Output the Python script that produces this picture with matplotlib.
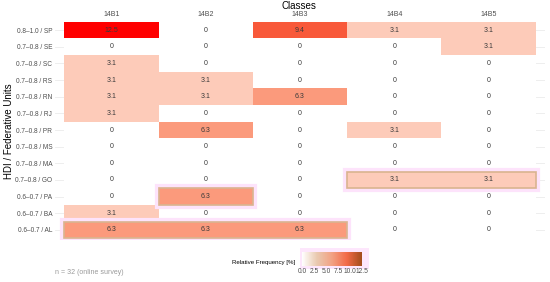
import numpy as np
import matplotlib
matplotlib.use("Agg")
import matplotlib.pyplot as plt
from matplotlib.colors import LinearSegmentedColormap, Normalize
from matplotlib.patches import Rectangle
import matplotlib.cm as cm

classes = ["14B1", "14B2", "14B3", "14B4", "14B5"]
units = ["0.8\u20131.0 / SP", "0.7\u20130.8 / SE", "0.7\u20130.8 / SC", "0.7\u20130.8 / RS",
         "0.7\u20130.8 / RN", "0.7\u20130.8 / RJ", "0.7\u20130.8 / PR", "0.7\u20130.8 / MS",
         "0.7\u20130.8 / MA", "0.7\u20130.8 / GO", "0.6\u20130.7 / PA", "0.6\u20130.7 / BA",
         "0.6\u20130.7 / AL"]
freq = np.array([
    [12.5, 0, 9.4, 3.1, 3.1],
    [0, 0, 0, 0, 3.1],
    [3.1, 0, 0, 0, 0],
    [3.1, 3.1, 0, 0, 0],
    [3.1, 3.1, 6.3, 0, 0],
    [3.1, 0, 0, 0, 0],
    [0, 6.3, 0, 3.1, 0],
    [0, 0, 0, 0, 0],
    [0, 0, 0, 0, 0],
    [0, 0, 0, 3.1, 3.1],
    [0, 6.3, 0, 0, 0],
    [3.1, 0, 0, 0, 0],
    [6.3, 6.3, 6.3, 0, 0],
])
highlight_rows = ["0.7\u20130.8 / GO", "0.6\u20130.7 / PA", "0.6\u20130.7 / AL"]
cbar_ticks = [0.0, 2.5, 5.0, 7.5, 10.0, 12.5]

plt.rcParams["font.family"] = ["Liberation Sans", "DejaVu Sans"]

cell_cmap = LinearSegmentedColormap.from_list(
    "cells", [(0, "#ffffff"), (0.248, "#fdcbb9"), (0.504, "#fb9b7d"),
              (0.752, "#f8593a"), (1.0, "#ff0000")])
bar_cmap = LinearSegmentedColormap.from_list(
    "bar", ["#ffffff", "#e9c9b0", "#f2a183", "#f26a48", "#a34d1c"])
norm = Normalize(0, 12.5)

fig = plt.figure(figsize=(5.5, 2.82), dpi=100)
ax = fig.add_axes([0.1, 0.149, 0.891, 0.78])

nr, nc = freq.shape
for y in range(nr):
    ax.axhline(y, color="#ebebeb", lw=0.6, zorder=0)
ax.pcolormesh(np.arange(nc + 1) - 0.5, np.arange(nr + 1) - 0.5, freq,
              cmap=cell_cmap, norm=norm, zorder=1)

# outlined groups (tan border with a faint pink halo)
for name in highlight_rows:
    r = units.index(name)
    cols = np.nonzero(freq[r])[0]
    x0, x1 = cols.min() - 0.5, cols.max() + 0.5
    ex, ey = 0.022, 0.12
    ax.add_patch(Rectangle((x0 - ex, r - 0.5 - ey), x1 - x0 + 2 * ex, 1 + 2 * ey,
                           fill=False, ec="#fde3fb", lw=3, zorder=2))
    ax.add_patch(Rectangle((x0, r - 0.5), x1 - x0, 1, fill=False,
                           ec="#d9b48f", lw=1.2, zorder=3))

for r in range(nr):
    for c in range(nc):
        v = freq[r, c]
        ax.text(c, r, "0" if v == 0 else f"{v:.1f}", ha="center", va="center",
                fontsize=5, color="#3a3a3a", zorder=4)

ax.set_xlim(-0.6, nc - 0.4)
ax.set_ylim(nr - 0.4, -0.6)
ax.set_xticks(range(nc))
ax.set_xticklabels(classes)
ax.xaxis.tick_top()
ax.set_yticks(range(nr))
ax.set_yticklabels(units)
ax.tick_params(length=0, labelsize=4.7, labelcolor="#4d4d4d", pad=2)
ax.tick_params(axis="x", labelsize=5, pad=1.5)
for s in ax.spines.values():
    s.set_visible(False)
fig.text(0.016, 0.535, "HDI / Federative Units", rotation=90, ha="center",
         va="center", fontsize=7)
fig.text(0.543, 0.978, "Classes", ha="center", va="center", fontsize=7)

# colour bar
fig.patches.append(Rectangle((0.545, 0.045), 0.125, 0.075, transform=fig.transFigure,
                             fc="#fde6fc", ec="none", zorder=-5))
cax = fig.add_axes([0.549, 0.058, 0.109, 0.05])
cb = fig.colorbar(cm.ScalarMappable(norm=norm, cmap=bar_cmap), cax=cax,
                  orientation="horizontal", ticks=cbar_ticks)
cb.outline.set_visible(False)
cb.ax.tick_params(length=0, labelsize=4.8, labelcolor="#4d4d4d", pad=1.5)
cb.ax.set_xticklabels([f"{t:.1f}" for t in cbar_ticks])
fig.text(0.537, 0.068, "Relative Frequency [%]", ha="right", va="center", fontsize=4.4)

fig.text(0.1, 0.035, "n = 32 (online survey)", ha="left", va="center",
         fontsize=5, color="#9a9a9a")

fig.savefig("out.png", dpi=100)
